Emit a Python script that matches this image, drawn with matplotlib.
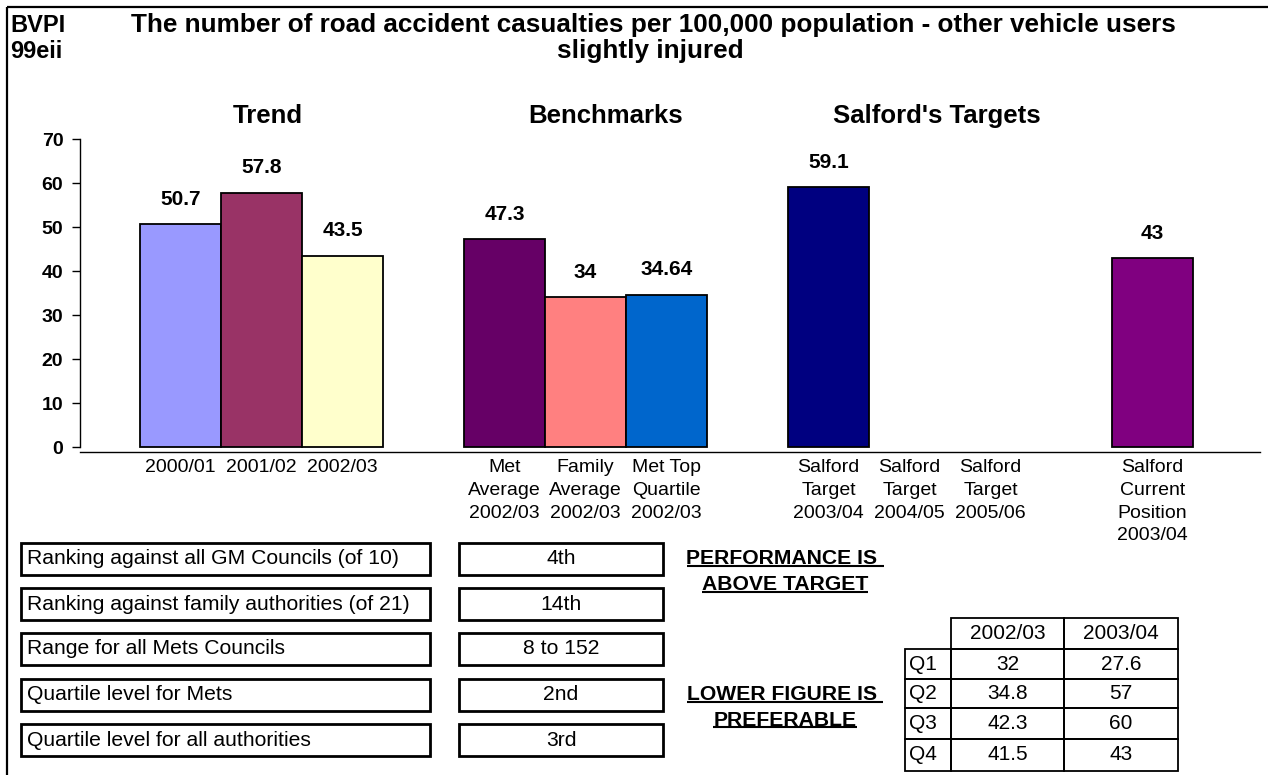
import math
import matplotlib
matplotlib.use("Agg")
import matplotlib.pyplot as plt
from matplotlib.patches import Rectangle

plt.rcParams['font.family'] = ['Liberation Sans', 'DejaVu Sans']

# ---------------- data ----------------
categories = ["2000/01", "2001/02", "2002/03", "",
              "Met\nAverage\n2002/03", "Family\nAverage\n2002/03", "Met Top\nQuartile\n2002/03", "",
              "Salford\nTarget\n2003/04", "Salford\nTarget\n2004/05", "Salford\nTarget\n2005/06", "",
              "Salford\nCurrent\nPosition\n2003/04"]
values = [50.7, 57.8, 43.5, math.nan,
          47.3, 34, 34.64, math.nan,
          59.1, math.nan, math.nan, math.nan,
          43]
section_titles = ["Trend", "Benchmarks", "Salford's Targets"]
y_ticks = [0, 10, 20, 30, 40, 50, 60, 70]

indicator_labels = ["Ranking against all GM Councils (of 10)",
                    "Ranking against family authorities (of 21)",
                    "Range for all Mets Councils",
                    "Quartile level for Mets",
                    "Quartile level for all authorities"]
indicator_values = ["4th", "14th", "8 to 152", "2nd", "3rd"]

quartile_cols = ["2002/03", "2003/04"]
quartile_rows = ["Q1", "Q2", "Q3", "Q4"]
quartile_2002 = ["32", "34.8", "42.3", "41.5"]
quartile_2003 = ["27.6", "57", "60", "43"]

# ---------------- styles ----------------
bar_colors = ["#9999FF", "#993366", "#FFFFCC", "none",
              "#660066", "#FF8080", "#0066CC", "none",
              "#000080", "none", "none", "none",
              "#800080"]

W, H = 1280, 775
fig = plt.figure(figsize=(W / 100, H / 100), dpi=100)
fig.patch.set_facecolor("white")

def fx(px):
    return px / W

def fy(py):
    return 1 - py / H

# main chart axes (pixel box: x 80..1260, y 139..452)
ax = fig.add_axes([fx(80), fy(452), fx(1260) - fx(80), fy(139) - fy(452)])
x = list(range(len(categories)))
ax.bar(x, values, width=1.0, color=bar_colors, edgecolor="black", linewidth=1.3, zorder=3)
ax.set_xlim(-1.241, 13.327)
ax.set_ylim(-1.1, 70)
ax.set_yticks(y_ticks)
ax.set_yticklabels([str(t) for t in y_ticks], fontsize=14, fontweight="bold")
ax.tick_params(axis="y", direction="out", length=6, width=1, pad=6)
ax.set_xticks(x)
ax.set_xticklabels(categories, fontsize=14, linespacing=1.45, va="top")
ax.tick_params(axis="x", length=0, pad=5)
for s in ["top", "right"]:
    ax.spines[s].set_visible(False)
ax.spines["left"].set_bounds(0, 70)
ax.spines["left"].set_linewidth(1)
ax.spines["bottom"].set_linewidth(1)

for xi, v in zip(x, values):
    if not math.isnan(v):
        ax.annotate(f"{v:g}", (xi, v), xytext=(0, 11), textcoords="offset points",
                    ha="center", va="bottom", fontsize=15, fontweight="bold")

# overlay axes in pixel coordinates
ov = fig.add_axes([0, 0, 1, 1], zorder=5)
ov.set_xlim(0, W)
ov.set_ylim(H, 0)
ov.axis("off")
ov.patch.set_alpha(0)

# outer border (left & top)
ov.plot([7, 7], [7, H], color="black", lw=1.6, solid_capstyle="butt")
ov.plot([7, 1268], [7, 7], color="black", lw=1.6, solid_capstyle="butt")

# titles
ov.text(10, 25, "BVPI", fontsize=17, fontweight="bold", ha="left", va="center")
ov.text(10, 51, "99eii", fontsize=17, fontweight="bold", ha="left", va="center")
ov.text(653, 25, "The number of road accident casualties per 100,000 population - other vehicle users",
        fontsize=18.8, fontweight="bold", ha="center", va="center")
ov.text(650, 51, "slightly injured", fontsize=18.8, fontweight="bold", ha="center", va="center")

for t, cx in zip(section_titles, [268, 606, 937]):
    ov.text(cx, 116, t, fontsize=18.5, fontweight="bold", ha="center", va="center")

# indicator boxes
row_tops = [543, 588, 633, 679, 724]
for top, lab, val in zip(row_tops, indicator_labels, indicator_values):
    ov.add_patch(Rectangle((21, top), 409, 32, fill=False, edgecolor="black", lw=2))
    ov.add_patch(Rectangle((459, top), 204, 32, fill=False, edgecolor="black", lw=2))
    ov.text(27, top + 16, lab, fontsize=15.2, ha="left", va="center")
    ov.text(561, top + 16, val, fontsize=15.2, ha="center", va="center")

# bold underlined notes
notes = [("PERFORMANCE IS ", 559), ("ABOVE TARGET", 585),
         ("LOWER FIGURE IS ", 695), ("PREFERABLE", 720)]
note_objs = []
for txt, cy in notes:
    note_objs.append(ov.text(785, cy, txt, fontsize=15.2, fontweight="bold", ha="center", va="center"))

# quartile table
col_x = [905, 951, 1064, 1178]
row_y = [618, 649, 679, 708, 739, 771]
for j, lab in enumerate(quartile_cols):
    ov.add_patch(Rectangle((col_x[j + 1], row_y[0]), col_x[j + 2] - col_x[j + 1], row_y[1] - row_y[0],
                           fill=False, edgecolor="black", lw=1.3))
    ov.text((col_x[j + 1] + col_x[j + 2]) / 2, (row_y[0] + row_y[1]) / 2, lab,
            fontsize=15, ha="center", va="center")
for i, rl in enumerate(quartile_rows):
    y0, y1 = row_y[i + 1], row_y[i + 2]
    cells = [rl, quartile_2002[i], quartile_2003[i]]
    for j, c in enumerate(cells):
        ov.add_patch(Rectangle((col_x[j], y0), col_x[j + 1] - col_x[j], y1 - y0,
                               fill=False, edgecolor="black", lw=1.3))
        if j == 0:
            ov.text(col_x[j] + 4, (y0 + y1) / 2, c, fontsize=15, ha="left", va="center")
        else:
            ov.text((col_x[j] + col_x[j + 1]) / 2, (y0 + y1) / 2, c, fontsize=15, ha="center", va="center")

# underline notes
fig.canvas.draw()
r = fig.canvas.get_renderer()
for t in note_objs:
    bb = t.get_window_extent(r)
    uy = H - (bb.y0 + 3)
    ov.plot([bb.x0, bb.x1], [uy, uy], color="black", lw=1.5, solid_capstyle="butt")

fig.savefig("out.png", dpi=100, facecolor="white")
